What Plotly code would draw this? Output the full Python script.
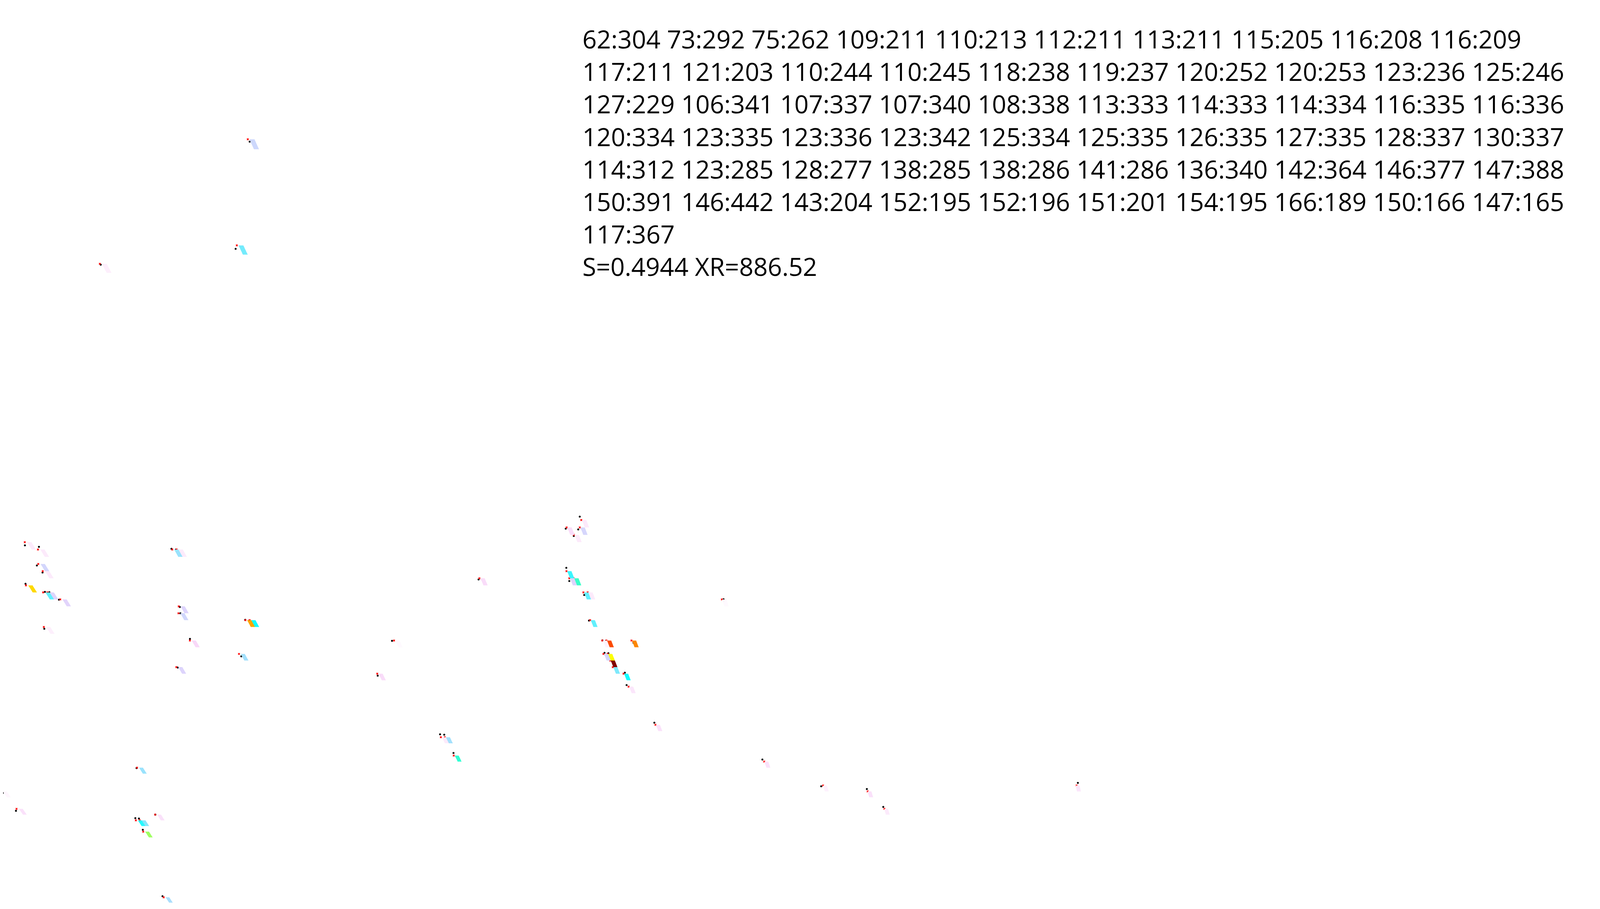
import numpy as np
import plotly.graph_objects as go

# observed cell corners (px) and values -- calibration round
px_x = [826, 779, 327, 73, 120, 113, 132, 75, 140, 155, 187, 138, 564, 579, 592, 594, 811, 825, 626, 798,
        585, 1932, 1885, 1927, 1912, 1887, 1897, 1910, 1947, 1960, 1963, 2008, 2020, 2112, 2015, 2028, 2037,
        2048, 2083, 2089, 1593, 1303, 1255, 1464, 1478, 1509, 2182, 2544, 2741, 2894, 2949, 3601, 447, 443,
        455, 510, 468, 534, 43, -1, 2414]
px_y = [357, 633, 674, 1397, 1401, 1449, 1467, 1496, 1517, 1518, 1537, 1612, 1406, 1408, 1556, 1572, 1589,
        1591, 1638, 1683, 1712, 1323, 1354, 1356, 1373, 1455, 1489, 1490, 1525, 1526, 1591, 1642, 1643, 1648,
        1674, 1675, 1691, 1708, 1725, 1757, 1485, 1643, 1733, 1884, 1885, 1932, 1854, 1949, 2018, 2025, 2071,
        2009, 1971, 2100, 2101, 2091, 2130, 2301, 2081, 2035, 1536]
vals = [21, 32, 5, 6, 6, 19, 6, 66, 33, 16, 15, 5, 28, 6, 16, 20, 71, 37, 10, 27,
        16, 6, 9, 18, 6, 35, 16, 43, 33, 6, 33, 4, 80, 74, 19, 62, 100,
        31, 37, 7, 9, 2, 9, 6, 27, 42, 8, 8, 4, 8, 6, 7, 28, 36,
        30, 8, 53, 26, 8, 3, 2]

W, H = 5340, 2326
SX = W / 4096.0
f = (H / 2) / np.tan(np.pi / 8)
cx, cy = W / 2, H / 2
Yh = 7500.0
phi = np.arctan((Yh - cy) / f)
h = 0.25
XR, YR = 680.0 * SX, 462.4
eye = np.array([0.0, -0.4, -0.25])
F = np.array([0, np.cos(phi), np.sin(phi)])
R = np.array([1.0, 0, 0])
U = np.cross(R, F)
ks = (5000 - cx) * np.cos(phi) / (SX * f)
S = ks * XR / YR

rows, cols = [], []
for X, Y in zip(px_x, px_y):
    zc = f * h / (np.cos(phi) * (Yh - Y))
    yrel = (zc - h * np.sin(phi)) / np.cos(phi)
    yd = (-0.4 + yrel + 0.5) * YR
    r = int(round(yd))
    xn = (X - cx) * zc / (SX * f)
    xd = (xn + 0.5) * XR
    c = int(round(xd - S * r))
    rows.append(r)
    cols.append(c)


def proj(xd, yd):
    p = np.array([xd / XR - 0.5, yd / YR - 0.5, 0.0]) - eye
    return cx + SX * f * p.dot(R) / p.dot(F), cy - f * p.dot(U) / p.dot(F)


vx, vy, vz, ii, jj, kk, inten = [], [], [], [], [], [], []
for r, c, v in zip(rows, cols, vals):
    n = len(vx)
    for dc, dr in [(0, 0), (1, 0), (1, 1), (0, 1)]:
        vx.append(c + dc + S * (r + dr))
        vy.append(r + dr)
        vz.append(0)
    ii += [n, n]
    jj += [n + 1, n + 2]
    kk += [n + 2, n + 3]
    inten += [v, v]

cscale = [[0, '#ffffff'], [0.05, '#fdeefc'], [0.10, '#f8d6f8'], [0.16, '#dcd4fc'], [0.21, '#ccd8fc'],
          [0.27, '#a2e0fc'], [0.32, '#72ecfc'], [0.375, '#05ffff'], [0.5, '#82ff80'], [0.625, '#ffff00'],
          [0.875, '#fa0000'], [1, '#800000']]

fig = go.Figure()
fig.add_trace(go.Mesh3d(x=vx, y=vy, z=vz, i=ii, j=jj, k=kk, intensity=inten, intensitymode='cell',
                        colorscale=cscale, cmin=0, cmax=100, showscale=False, flatshading=True,
                        lighting=dict(ambient=1, diffuse=0, specular=0, roughness=1, fresnel=0),
                        hoverinfo='skip'))
pred = [proj(c + S * r, r) for r, c in zip(rows, cols)]
fig.add_trace(go.Scatter(x=px_x, y=px_y, mode='markers', marker=dict(size=5, color='black')))
fig.add_trace(go.Scatter(x=[p[0] for p in pred], y=[p[1] for p in pred], mode='markers',
                         marker=dict(size=5, color='red', symbol='x')))
txt = '<br>'.join(' '.join('%d:%d' % (rows[k], cols[k]) for k in range(i, min(i + 10, len(rows))))
                  for i in range(0, len(rows), 10))
txt += '<br>S=%.4f XR=%.2f' % (S, XR)
fig.add_annotation(x=0.98, y=0.98, xref='paper', yref='paper', text=txt, showarrow=False,
                   font=dict(size=64, color='black'), xanchor='right', yanchor='top', align='left')
fig.update_layout(
    margin=dict(l=0, r=0, t=0, b=0), paper_bgcolor='white', plot_bgcolor='rgba(0,0,0,0)', showlegend=False,
    xaxis=dict(range=[0, W], visible=False, domain=[0, 1]),
    yaxis=dict(range=[H, 0], visible=False, domain=[0, 1]),
    scene=dict(domain=dict(x=[0, 1], y=[0, 1]), aspectmode='manual', aspectratio=dict(x=1, y=1, z=1),
               xaxis=dict(range=[0, XR], visible=False), yaxis=dict(range=[0, YR], visible=False),
               zaxis=dict(range=[-1, 1], visible=False), bgcolor='rgba(0,0,0,0)',
               camera=dict(eye=dict(x=eye[0], y=eye[1], z=eye[2]),
                           center=dict(x=eye[0] + 0.3 * F[0], y=eye[1] + 0.3 * F[1], z=eye[2] + 0.3 * F[2]),
                           up=dict(x=0, y=0, z=1), projection=dict(type='perspective'))))
fig.write_html("out.html")
